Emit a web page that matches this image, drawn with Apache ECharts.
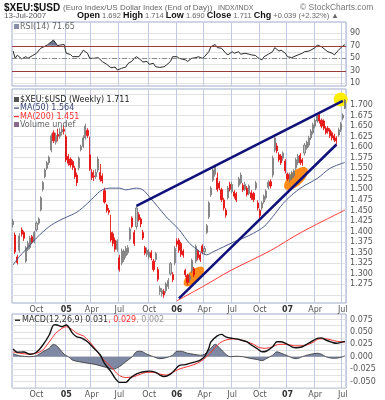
<!DOCTYPE html>
<html><head><meta charset="utf-8">
<script src="https://cdn.jsdelivr.net/npm/echarts@6/dist/echarts.min.js"></script>
<style>html,body{margin:0;padding:0;background:#fff}#c{width:385px;height:400px}</style>
</head><body><div id="c"></div>
<script>
// ---------- DATA ----------
const firstWeekUTC = Date.UTC(2004, 6, 16);   // first weekly bar (Friday)
const weekCount = 157;
const dates = [];
for (let k = 0; k < weekCount; k++) {
  dates.push(new Date(firstWeekUTC + k * 7 * 864e5).toISOString().slice(0, 10));
}
// weekly candles: [open, close, low, high]
const ohlc = [
[1.416,1.425,1.410,1.430],[1.392,1.352,1.347,1.398],[1.340,1.327,1.322,1.345],[1.356,1.390,1.350,1.396],
[1.404,1.394,1.388,1.410],[1.398,1.384,1.378,1.402],[1.330,1.362,1.326,1.366],[1.358,1.372,1.354,1.378],
[1.362,1.385,1.358,1.390],[1.388,1.374,1.370,1.392],[1.376,1.398,1.372,1.402],[1.404,1.420,1.400,1.424],
[1.420,1.430,1.416,1.434],[1.452,1.480,1.448,1.484],[1.500,1.516,1.495,1.520],[1.530,1.546,1.526,1.550],
[1.550,1.563,1.546,1.567],[1.563,1.576,1.558,1.580],[1.593,1.627,1.588,1.632],[1.634,1.615,1.610,1.640],
[1.612,1.628,1.606,1.634],[1.630,1.626,1.614,1.644],[1.626,1.636,1.620,1.645],[1.636,1.642,1.628,1.650],
[1.642,1.638,1.630,1.652],[1.625,1.570,1.565,1.630],[1.578,1.562,1.556,1.584],[1.572,1.558,1.552,1.576],
[1.566,1.552,1.546,1.570],[1.550,1.530,1.525,1.556],[1.534,1.516,1.508,1.540],[1.551,1.574,1.545,1.578],
[1.594,1.602,1.590,1.606],[1.602,1.622,1.598,1.628],[1.622,1.650,1.618,1.656],[1.640,1.628,1.622,1.645],
[1.582,1.548,1.544,1.625],[1.540,1.528,1.522,1.548],[1.532,1.530,1.520,1.545],[1.530,1.540,1.525,1.548],
[1.546,1.572,1.540,1.578],[1.540,1.524,1.518,1.560],[1.532,1.520,1.514,1.538],[1.497,1.470,1.466,1.504],
[1.463,1.450,1.445,1.466],[1.450,1.446,1.440,1.456],[1.398,1.380,1.375,1.440],[1.395,1.372,1.365,1.400],
[1.380,1.358,1.352,1.386],[1.358,1.378,1.352,1.382],[1.338,1.310,1.305,1.345],[1.326,1.354,1.320,1.360],
[1.334,1.354,1.328,1.358],[1.343,1.360,1.338,1.366],[1.350,1.362,1.345,1.368],[1.382,1.406,1.378,1.410],
[1.432,1.412,1.408,1.436],[1.398,1.372,1.366,1.404],[1.412,1.456,1.405,1.462],[1.440,1.428,1.424,1.446],
[1.430,1.418,1.410,1.434],[1.398,1.385,1.380,1.404],[1.362,1.349,1.344,1.366],[1.346,1.356,1.340,1.362],
[1.340,1.352,1.334,1.358],[1.350,1.338,1.332,1.356],[1.330,1.310,1.305,1.335],[1.334,1.348,1.328,1.352],
[1.310,1.287,1.282,1.316],[1.258,1.266,1.250,1.272],[1.252,1.260,1.246,1.266],[1.258,1.250,1.243,1.264],
[1.260,1.276,1.254,1.280],[1.270,1.284,1.264,1.290],[1.300,1.324,1.296,1.328],[1.298,1.286,1.280,1.304],
[1.326,1.360,1.320,1.366],[1.378,1.370,1.364,1.384],[1.380,1.356,1.350,1.384],[1.372,1.346,1.340,1.376],
[1.354,1.344,1.338,1.358],[1.308,1.298,1.292,1.312],[1.296,1.280,1.274,1.300],[1.286,1.295,1.280,1.300],
[1.308,1.332,1.302,1.336],[1.312,1.298,1.292,1.316],[1.330,1.365,1.325,1.370],[1.354,1.338,1.332,1.358],
[1.345,1.333,1.328,1.350],[1.366,1.352,1.346,1.370],[1.352,1.360,1.346,1.366],[1.398,1.414,1.394,1.418],
[1.435,1.468,1.430,1.472],[1.487,1.503,1.482,1.508],[1.522,1.546,1.518,1.550],[1.536,1.553,1.530,1.558],
[1.527,1.500,1.495,1.540],[1.515,1.503,1.498,1.520],[1.499,1.476,1.470,1.504],[1.475,1.456,1.450,1.480],
[1.451,1.439,1.433,1.456],[1.480,1.503,1.476,1.508],[1.512,1.500,1.495,1.518],[1.495,1.512,1.490,1.518],
[1.494,1.484,1.478,1.498],[1.490,1.475,1.470,1.494],[1.510,1.525,1.505,1.530],[1.516,1.534,1.512,1.540],
[1.510,1.499,1.494,1.515],[1.500,1.512,1.496,1.518],[1.503,1.488,1.483,1.508],[1.490,1.508,1.486,1.512],
[1.492,1.480,1.475,1.498],[1.490,1.476,1.470,1.494],[1.503,1.515,1.498,1.520],[1.468,1.456,1.450,1.474],
[1.450,1.438,1.432,1.454],[1.456,1.468,1.450,1.472],[1.470,1.484,1.466,1.488],[1.480,1.496,1.476,1.500],
[1.505,1.517,1.500,1.522],[1.518,1.508,1.502,1.524],[1.534,1.574,1.528,1.580],[1.593,1.622,1.588,1.630],
[1.603,1.591,1.586,1.610],[1.582,1.570,1.565,1.588],[1.579,1.563,1.558,1.584],[1.574,1.586,1.568,1.590],
[1.567,1.544,1.538,1.572],[1.536,1.525,1.520,1.540],[1.522,1.534,1.516,1.540],[1.527,1.539,1.522,1.544],
[1.532,1.544,1.527,1.548],[1.551,1.570,1.546,1.575],[1.563,1.579,1.558,1.584],[1.581,1.563,1.558,1.586],
[1.570,1.563,1.556,1.574],[1.586,1.605,1.580,1.610],[1.598,1.612,1.594,1.616],[1.605,1.622,1.600,1.627],
[1.622,1.638,1.617,1.643],[1.634,1.653,1.630,1.658],[1.650,1.664,1.645,1.668],[1.662,1.674,1.658,1.679],
[1.676,1.662,1.656,1.680],[1.664,1.650,1.645,1.668],[1.662,1.645,1.640,1.666],[1.645,1.634,1.630,1.650],
[1.645,1.638,1.632,1.650],[1.641,1.627,1.622,1.645],[1.634,1.622,1.616,1.638],[1.627,1.617,1.612,1.632],
[1.622,1.615,1.606,1.626],[1.629,1.641,1.625,1.646],[1.641,1.655,1.636,1.660],[1.669,1.676,1.664,1.680],
[1.692,1.711,1.690,1.714]
];
// moving averages: [week index, value]
const ma50 = [[0,1.321],[3,1.341],[8,1.368],[11,1.385],[17,1.412],[22,1.427],[25,1.434],[30,1.446],[35,1.467],
[39,1.487],[42,1.499],[46,1.503],[50,1.503],[53,1.499],[58,1.503],[61,1.499],[64,1.483],[68,1.459],[72,1.435],
[75,1.420],[78,1.405],[83,1.372],[88,1.352],[91,1.345],[94,1.352],[99,1.364],[104,1.376],[108,1.384],[113,1.396],
[118,1.412],[122,1.435],[127,1.467],[132,1.491],[136,1.506],[143,1.526],[149,1.550],[156,1.564]];
const ma200 = [[77,1.236],[90,1.272],[102,1.307],[121,1.355],[135,1.397],[156,1.451]];
// RSI(14): [week index, value]
const rsi = [[0,61.6],[1,50],[2,55],[4,49],[6,52.6],[7,50],[9,54],[11,58],[13,66],[16,71],[18,76.5],[19,79],
[21,70],[22,71],[24,72],[25,58],[27,56],[28,52.6],[31,52.6],[33,63],[35,58],[36,50],[38,50],[40,51],[42,44.6],
[44,40.4],[46,35],[48,36],[49,31.3],[51,34],[53,36],[54,41.5],[56,45.7],[57,50],[58,52.6],[60,47.5],[61,44],
[63,45],[64,40.4],[66,42],[67,36.5],[69,35.5],[71,36.5],[72,39],[74,45],[75,52.6],[77,52.6],[78,50],[81,47.5],
[82,45],[84,50],[86,51],[87,52.6],[89,50],[90,52.6],[92,60.5],[93,68.5],[95,72],[96,67],[98,66],[100,58],
[101,55.5],[103,60.5],[104,58],[106,60.5],[107,56.5],[109,58],[111,56.5],[112,55.5],[114,54.5],[115,51],
[117,47.5],[118,52.6],[120,56.5],[122,60.5],[123,67],[125,61.5],[126,63],[128,58],[129,52.6],[131,51],
[132,52.6],[134,55.5],[136,58],[137,60.5],[139,61.5],[140,63],[142,67],[143,71],[145,68.5],[147,63],
[148,60.5],[150,58],[151,55.5],[153,63],[155,70],[156,71.65]];
const rsiOver70 = [[16,70],[18,76.5],[19,79],[21,70]];
// MACD(12,26,9): [week index, value]
const macdLine = [[0,0.0155],[2,0.009],[5,0.0095],[8,0.005],[11,0.009],[14,0.0236],[17,0.0437],[19,0.064],
[20,0.0645],[23,0.0605],[25,0.064],[28,0.047],[30,0.040],[32,0.038],[35,0.030],[38,0.017],[41,0.0034],
[43,-0.0134],[46,-0.030],[48,-0.0436],[50,-0.0517],[53,-0.0517],[55,-0.0436],[57,-0.037],[60,-0.0315],
[62,-0.030],[64,-0.029],[67,-0.0315],[69,-0.037],[71,-0.040],[74,-0.035],[76,-0.027],[78,-0.018],[81,-0.016],
[83,-0.0134],[86,-0.010],[88,-0.0067],[90,0],[92,0.017],[93,0.030],[96,0.042],[98,0.045],[100,0.040],
[103,0.037],[105,0.036],[107,0.0337],[110,0.030],[112,0.0236],[115,0.0155],[117,0.010],[119,0.011],
[122,0.020],[124,0.030],[126,0.030],[129,0.025],[131,0.020],[133,0.018],[136,0.020],[138,0.025],[140,0.030],
[143,0.037],[145,0.038],[147,0.0337],[150,0.029],[152,0.027],[155,0.030],[156,0.031]];
const macdSignal = [[0,0.0095],[3,0.007],[8,0.005],[11,0.007],[14,0.0135],[17,0.030],[20,0.047],[23,0.057],
[25,0.0605],[28,0.054],[30,0.047],[33,0.042],[36,0.030],[39,0.0135],[42,-0.0034],[46,-0.020],[48,-0.030],
[50,-0.038],[53,-0.042],[57,-0.040],[60,-0.035],[63,-0.0315],[66,-0.0315],[69,-0.035],[72,-0.037],
[75,-0.0315],[78,-0.025],[82,-0.020],[85,-0.016],[88,-0.010],[91,0],[94,0.0135],[97,0.027],[100,0.0337],
[104,0.036],[107,0.0337],[110,0.030],[113,0.025],[116,0.018],[119,0.017],[122,0.020],[125,0.025],[129,0.025],
[132,0.022],[135,0.022],[138,0.0236],[141,0.029],[144,0.036],[147,0.036],[151,0.032],[154,0.030],[156,0.029]];
const macdHist = [[0,0.006],[3,0.002],[8,0],[11,0.002],[14,0.010],[17,0.017],[19,0.025],[21,0.020],[24,0.005],
[26,0],[28,-0.007],[31,-0.010],[35,-0.013],[39,-0.016],[44,-0.022],[47,-0.025],[50,-0.020],[53,-0.010],[56,0],
[58,0.010],[60,0.011],[63,0.005],[66,0],[69,-0.004],[72,-0.002],[75,0.003],[77,0.011],[79,0.011],[82,0.007],
[85,0.005],[88,0.003],[90,0.005],[93,0.017],[95,0.025],[97,0.018],[100,0.005],[102,0],[105,0.001],[108,0],
[111,-0.003],[115,-0.006],[117,-0.008],[119,-0.004],[122,0.003],[124,0.010],[126,0.007],[129,0.002],
[131,-0.002],[133,-0.004],[136,0],[138,0.003],[140,0.005],[143,0.007],[145,0.005],[147,0],[150,-0.003],
[152,-0.003],[155,0],[156,0.002]];
// annotations in data coordinates [week index, price]
const upperTrend = [[58,1.4607],[155,1.7095]];
const lowerTrend = [[78,1.2420],[152,1.6064]];
const orangeMarks = [[85,1.2936],[133,1.5258]];
const yellowMark = [154,1.713];
// tick labels
const priceLabels = [1.275,1.300,1.325,1.350,1.375,1.400,1.425,1.450,1.475,1.500,1.525,1.550,1.575,1.600,1.625,1.650,1.675,1.700];
const priceGrid = [1.250].concat(priceLabels, [1.725]);
const rsiLabels = [10,30,50,70,90];
const rsiGrid = [10,20,30,40,50,60,70,80,90];
const macdLabels = [-0.050,-0.025,0.000,0.025,0.050,0.075];
const macdGrid = [-0.0625,-0.050,-0.0375,-0.025,-0.0125,0,0.0125,0.025,0.0375,0.050,0.0625,0.075];
const monthNames = ['Jan','Feb','Mar','Apr','May','Jun','Jul','Aug','Sep','Oct','Nov','Dec'];
const quoteFields = [['Open','1.692'],['High','1.714'],['Low','1.690'],['Close','1.711'],['Chg','+0.039 (+2.32%)']];

// ---------- CHART ----------
const F = '"DejaVu Sans", Verdana, sans-serif';
const A = '"Liberation Sans", Arial, sans-serif';
const isQuarter = v => { const m = +v.slice(5,7), d = +v.slice(8,10); return (m===1||m===4||m===7||m===10) && d <= 7; };
const fmtDate = v => { const m = +v.slice(5,7); return m === 1 ? '{y|' + v.slice(2,4) + '}' : monthNames[m-1]; };
const chart = echarts.init(document.getElementById('c'), null, {width:385, height:400});
const gridStyle = {show:true, borderColor:'#9fabc8', borderWidth:1, backgroundColor:'#fff'};
function xa(gi, showLabel) {
  return {type:'category', gridIndex:gi, data:dates, boundaryGap:true,
    axisLine:{show:false}, axisTick:{show:false},
    splitLine:{show:true, interval:(i,v)=>isQuarter(v), lineStyle:{color:'#c3cbe2', width:1}},
    axisLabel:{show:showLabel, interval:(i,v)=>isQuarter(v), formatter:fmtDate, margin:3, fontSize:8,
      fontFamily:F, color:'#555', rich:{y:{fontWeight:'bold', fontSize:8, fontFamily:F, color:'#333'}}}};
}
function ya(gi, min, max, labels, gridVals, fmt) {
  return {type:'value', gridIndex:gi, position:'right', min, max, scale:true,
    axisLine:{show:false}, axisTick:{show:false, customValues:gridVals},
    splitLine:{show:true, lineStyle:{color:'#e2e2e2', width:1}},
    axisLabel:{customValues:labels, formatter:fmt, fontSize:8, fontFamily:F, color:'#555', margin:4}};
}
const option = {
  animation:false, backgroundColor:'#fff',
  grid:[Object.assign({left:12, right:39, top:22, height:64}, gridStyle),
        Object.assign({left:12, right:39, top:89, height:214}, gridStyle),
        Object.assign({left:12, right:39, top:314, height:74}, gridStyle)],
  xAxis:[xa(0,false), xa(1,true), xa(2,true)],
  yAxis:[ya(0, 5.8, 107.9, rsiLabels, rsiGrid, v=>String(v)),
         ya(1, 1.2308, 1.7379, priceLabels, priceGrid, v=>v.toFixed(3)),
         ya(2, -0.0631, 0.0861, macdLabels, macdGrid, v=>v.toFixed(3))],
  series:[
    {type:'line', xAxisIndex:0, yAxisIndex:0, data:rsiOver70, showSymbol:false, lineStyle:{width:0},
     areaStyle:{origin:70, color:'#6d7591', opacity:1}, silent:true, z:1},
    {type:'line', xAxisIndex:0, yAxisIndex:0, data:rsi, showSymbol:false, lineStyle:{color:'#2a2a2a', width:1}, silent:true,
     markLine:{silent:true, symbol:'none', label:{show:false},
       data:[{yAxis:70, lineStyle:{color:'#9a3c3c', width:1, type:'solid'}},
             {yAxis:30, lineStyle:{color:'#9a3c3c', width:1, type:'solid'}},
             {yAxis:50, lineStyle:{color:'#8a8a8a', width:1, type:[5,2,1,2]}}]}},
    {type:'candlestick', xAxisIndex:1, yAxisIndex:1, data:ohlc, barWidth:1.6,
     itemStyle:{color:'#c4c4c4', color0:'#ff1a1a', borderColor:'#707070', borderColor0:'#e00000', borderWidth:0.8},
     markLine:{silent:true, symbol:'none', label:{show:false}, lineStyle:{color:'#10107a', width:2.5, type:'solid'},
       data:[[{coord:upperTrend[0]},{coord:upperTrend[1]}],[{coord:lowerTrend[0]},{coord:lowerTrend[1]}]]}},
    {type:'line', xAxisIndex:1, yAxisIndex:1, data:ma50, smooth:0.3, showSymbol:false, lineStyle:{color:'#4f5b8c', width:1}, silent:true},
    {type:'line', xAxisIndex:1, yAxisIndex:1, data:ma200, smooth:0.3, showSymbol:false, lineStyle:{color:'#ff3a3a', width:1}, silent:true},
    {type:'line', xAxisIndex:2, yAxisIndex:2, data:macdHist, smooth:0.3, showSymbol:false, lineStyle:{color:'#333', width:0.8},
     areaStyle:{color:'#717c9a', opacity:0.9}, silent:true},
    {type:'line', xAxisIndex:2, yAxisIndex:2, data:macdSignal, smooth:0.3, showSymbol:false, lineStyle:{color:'#ff3030', width:1}, silent:true},
    {type:'line', xAxisIndex:2, yAxisIndex:2, data:macdLine, smooth:0.3, showSymbol:false, lineStyle:{color:'#111', width:1.4}, silent:true}
  ]
};
chart.setOption(option);

const toPx = pt => chart.convertToPixel({gridIndex:1}, pt);
const T = (x, y, text, font, fill, extra) => ({type:'text', x, y, silent:true, z:10,
  style:Object.assign({text, font, fill, verticalAlign:'middle', align:'left'}, extra || {})});
let quoteRich = quoteFields.map(f => '{b|' + f[0] + '} {v|' + f[1] + '}').join(' ') + ' {v|▲}';
const graphics = [
  T(4, 8, '$XEU:$USD', 'bold 10px ' + A, '#111'),
  T(63, 8, '(Euro Index/US Dollar Index (End of Day))', '8px ' + A, '#666'),
  T(218, 8, 'INDX/INDX', '7px ' + A, '#666'),
  T(300, 8, '© StockCharts.com', '8.5px ' + A, '#777'),
  T(4, 16, '13-Jul-2007', '8px ' + A, '#555'),
  {type:'text', x:77, y:16, silent:true, z:10, style:{text:quoteRich, font:'7.5px ' + A, fill:'#666', verticalAlign:'middle',
    rich:{b:{font:'bold 9px ' + A, fill:'#111'}, v:{font:'7.5px ' + A, fill:'#666'}}}},
  T(20, 27, 'RSI(14) 71.65', '8px ' + F, '#666'),
  {type:'rect', shape:{x:14, y:24, width:5, height:5}, style:{fill:'#8890a8'}, silent:true, z:10},
  T(20, 100, '$XEU:$USD (Weekly) 1.711', '8px ' + F, '#222'),
  {type:'rect', shape:{x:14, y:97, width:5, height:5}, style:{fill:'#555'}, silent:true, z:10},
  T(20, 108, 'MA(50) 1.564', '8px ' + F, '#3a4478'),
  {type:'rect', shape:{x:14, y:107.5, width:5, height:1.2}, style:{fill:'#3a4478'}, silent:true, z:10},
  T(20, 116.5, 'MA(200) 1.451', '8px ' + F, '#ff3030'),
  {type:'rect', shape:{x:14, y:116, width:5, height:1.2}, style:{fill:'#ff3030'}, silent:true, z:10},
  T(20, 124.5, 'Volume undef', '8px ' + F, '#666'),
  {type:'rect', shape:{x:14, y:122, width:5, height:5}, style:{fill:'#8a6a8a'}, silent:true, z:10},
  {type:'text', x:22, y:320, silent:true, z:10, style:{text:'{k|MACD(12,26,9) 0.031}{r|, 0.029}{g|, 0.002}',
    font:'8px ' + F, verticalAlign:'middle', rich:{k:{font:'8px ' + F, fill:'#333'}, r:{font:'8px ' + F, fill:'#ff3030'}, g:{font:'8px ' + F, fill:'#999'}}}},
  {type:'rect', shape:{x:15, y:319.5, width:5, height:1.5}, style:{fill:'#333'}, silent:true, z:10}
];
orangeMarks.forEach((m, k) => {
  const p = toPx(m);
  graphics.push({type:'ellipse', x:p[0], y:p[1], rotation:0.76, shape:{cx:0, cy:0, rx: k ? 15 : 13, ry: k ? 7 : 6},
    style:{fill:'#ff8c1a'}, silent:true, z:1});
});
const yp = toPx(yellowMark);
graphics.push({type:'circle', shape:{cx:yp[0], cy:yp[1], r:7}, style:{fill:'#ffee00'}, silent:true, z:1});
chart.setOption({graphic:graphics});
</script>
</body></html>
